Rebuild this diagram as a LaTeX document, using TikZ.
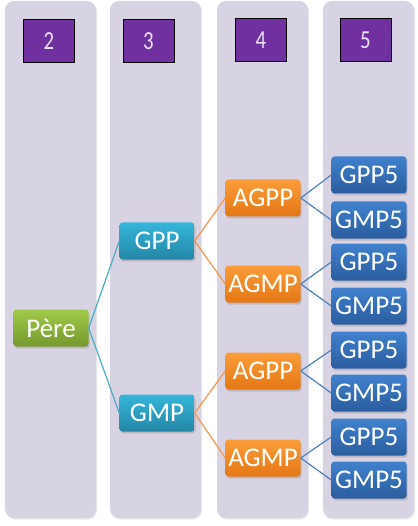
\documentclass[tikz,border=0pt]{standalone}
\usepackage{fontspec}
\setmainfont{Carlito}
\usetikzlibrary{shadows}

\definecolor{panelfill}{RGB}{216,211,226}
\definecolor{numpurple}{RGB}{112,48,160}
\definecolor{numtext}{RGB}{232,226,240}
\definecolor{perelink}{RGB}{75,172,198}
\definecolor{gplink}{RGB}{247,150,70}
\definecolor{aglink}{RGB}{79,129,189}

\begin{document}
\begin{tikzpicture}[x=1pt, y=-1pt,
    panel/.style={fill=panelfill, rounded corners=9pt,
      drop shadow={opacity=0.18, shadow xshift=1pt, shadow yshift=-1.5pt}},
    numbox/.style={fill=numpurple, draw=black, line width=0.9pt,
      minimum width=51pt, minimum height=43pt, inner sep=0pt,
      text=numtext, font=\fontsize{26}{26}\selectfont},
    person/.style={rounded corners=3pt, minimum width=75pt, minimum height=37pt,
      inner sep=0pt, text=white, font=\fontsize{27}{27}\selectfont,
      drop shadow={opacity=0.3, shadow xshift=1pt, shadow yshift=-2pt}},
    pere/.style={person, top color={rgb,255:red,160;green,202;blue,74},
      bottom color={rgb,255:red,117;green,153;blue,44}},
    gp/.style={person, top color={rgb,255:red,52;green,182;blue,218},
      bottom color={rgb,255:red,36;green,134;blue,166}},
    ag/.style={person, top color={rgb,255:red,250;green,156;blue,58},
      bottom color={rgb,255:red,228;green,120;blue,20}},
    gfive/.style={person, top color={rgb,255:red,64;green,130;blue,206},
      bottom color={rgb,255:red,42;green,92;blue,158}},
    link/.style={line width=1.2pt}]

  \useasboundingbox (0,0) rectangle (417,526);

  % Columns
  \foreach \xa in {5,110,217,323}
    \path[panel] (\xa,1) rectangle ++(91,517);

  % Generation numbers
  \node[numbox] (n2) at (49,41) {\scalebox{0.8}[1]{2}};
  \node[numbox] (n3) at (148.5,41) {\scalebox{0.8}[1]{3}};
  \node[numbox] (n4) at (261,40) {\scalebox{0.8}[1]{4}};
  \node[numbox] (n5) at (365.5,40) {\scalebox{0.8}[1]{5}};

  % Tree
  \node[pere] (pere) at (51,328) {Père};

  \node[gp] (gpp) at (157,241) {GPP};
  \node[gp] (gmp) at (157,413) {GMP};

  \node[ag] (agpp1) at (263,198) {AGPP};
  \node[ag] (agmp1) at (263,284) {AGMP};
  \node[ag] (agpp2) at (263,371) {AGPP};
  \node[ag] (agmp2) at (263,458) {AGMP};

  \node[gfive] (gpp5a) at (369,175) {GPP5};
  \node[gfive] (gmp5a) at (369,220) {GMP5};
  \node[gfive] (gpp5b) at (369,262) {GPP5};
  \node[gfive] (gmp5b) at (369,306) {GMP5};
  \node[gfive] (gpp5c) at (369,350) {GPP5};
  \node[gfive] (gmp5c) at (369,393) {GMP5};
  \node[gfive] (gpp5d) at (369,437) {GPP5};
  \node[gfive] (gmp5d) at (369,480) {GMP5};

  % Links
  \draw[link, perelink] (pere.east) -- (gpp.west);
  \draw[link, perelink] (pere.east) -- (gmp.west);

  \draw[link, gplink] (gpp.east) -- (agpp1.west);
  \draw[link, gplink] (gpp.east) -- (agmp1.west);
  \draw[link, gplink] (gmp.east) -- (agpp2.west);
  \draw[link, gplink] (gmp.east) -- (agmp2.west);

  \foreach \p/\c in {agpp1/a, agmp1/b, agpp2/c, agmp2/d} {
    \draw[link, aglink] (\p.east) -- (gpp5\c.west);
    \draw[link, aglink] (\p.east) -- (gmp5\c.west);
  }
\end{tikzpicture}
\end{document}
